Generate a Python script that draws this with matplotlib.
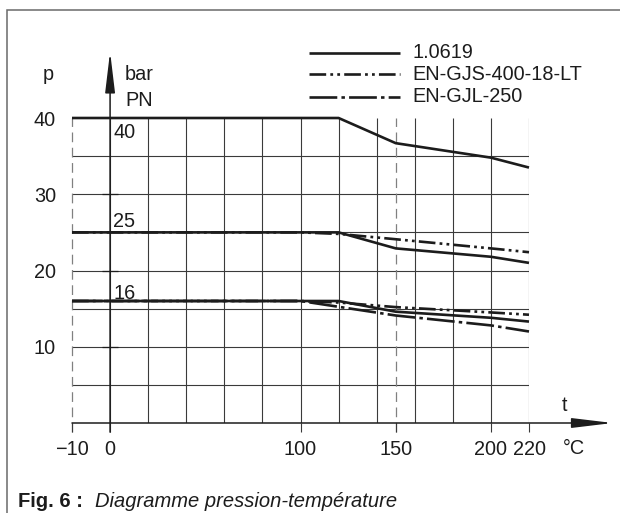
import numpy as np
import matplotlib
matplotlib.use("Agg")
import matplotlib.pyplot as plt
from matplotlib.patches import Rectangle

plt.rcParams['font.family'] = ['Liberation Sans', 'DejaVu Sans']
plt.rcParams['lines.scale_dashes'] = False

# pressure-temperature ratings
t_steel = [-10, 120, 150, 200, 220]
p_steel_pn40 = [40, 40, 36.7, 34.8, 33.5]
p_steel_pn25 = [25, 25, 22.9, 21.8, 21.0]
p_steel_pn16 = [16, 16, 14.6, 13.8, 13.3]

t_gjs = [-10, 100, 120, 150, 200, 220]
p_gjs_pn25 = [25, 25, 24.8, 24.1, 22.9, 22.4]
p_gjs_pn16 = [16, 16, 15.8, 15.2, 14.5, 14.2]

t_gjl = [-10, 100, 150, 200, 220]
p_gjl_pn16 = [16, 16, 14.1, 12.8, 12.0]

materials = ['1.0619', 'EN-GJS-400-18-LT', 'EN-GJL-250']
pn_levels = [40, 25, 16]
x_ticks = [-10, 0, 100, 150, 200, 220]
y_ticks = [10, 20, 30, 40]
x_grid = [0, 20, 40, 60, 80, 100, 120, 140, 160, 180, 200, 220]
y_grid = [5, 10, 15, 20, 25, 30, 35]

ink = '#1c1c1c'
grid_c = '#3a3a3a'
styles = {
    '1.0619': '-',
    'EN-GJS-400-18-LT': (0, (12, 3, 2, 3, 2, 3)),
    'EN-GJL-250': (0, (20, 3, 2.5, 3)),
}
lw = 1.9
fs = 14.3

W, H = 620, 513
fig = plt.figure(figsize=(W / 100, H / 100), dpi=100)

# outer frame of the figure box
fig.patches.append(Rectangle((7 / W, -0.1), 1.2, (H - 10) / H + 0.1,
                             transform=fig.transFigure, fill=False,
                             edgecolor='#6a6a6a', lw=1.1))

# plot box: -10..220 degC, 0..40 bar
ax = fig.add_axes([72 / W, (H - 423) / H, 457 / W, 305 / H])


def fwd(x):
    x = np.asarray(x, dtype=float)
    return np.where(x < 0, 2 * x, x)


def inv(x):
    x = np.asarray(x, dtype=float)
    return np.where(x < 0, x / 2, x)


ax.set_xscale('function', functions=(fwd, inv))
ax.set_xlim(-10, 220)
ax.set_ylim(0, 40)
for s in ax.spines.values():
    s.set_visible(False)

# grid
ax.vlines(x_grid, 0, 40, color=grid_c, lw=0.8, zorder=1)
ax.hlines(y_grid, -10, 220, color=grid_c, lw=0.8, zorder=1)
ax.vlines([-10, 150], -1.2, 40, color='#808080', lw=0.9,
          linestyles=[(0, (7, 4))], zorder=1, clip_on=False)

# ticks
ax.set_xticks(x_ticks)
ax.set_xticklabels(['\u221210', '0', '100', '150', '200', '220'])
ax.tick_params(axis='x', direction='out', length=6.5, width=0.8,
               color=grid_c, pad=6, labelsize=fs, labelcolor=ink)
ax.set_yticks(y_ticks)
ax.set_yticklabels([str(v) for v in y_ticks])
ax.tick_params(axis='y', length=0, pad=11.5, labelsize=fs, labelcolor=ink)
ax.plot([0] * 3, y_ticks[:3], ls='none', marker='_', ms=12, mew=0.9,
        color=ink, clip_on=False, zorder=3)

# axes with arrows
arrow = dict(arrowstyle='-|>,head_length=2.5,head_width=0.3',
             mutation_scale=10, lw=1.1, color=ink, shrinkA=0, shrinkB=0)
ax.annotate('', xy=(264, 0), xytext=(-10, 0), arrowprops=arrow,
            annotation_clip=False, zorder=4)
ax.annotate('', xy=(0, 48.7), xytext=(0, -1.2), arrowprops=arrow,
            annotation_clip=False, zorder=4)

# curves
for t, p in [(t_steel, p_steel_pn40), (t_steel, p_steel_pn25),
             (t_steel, p_steel_pn16)]:
    ax.plot(t, p, ls=styles['1.0619'], color=ink, lw=lw, zorder=5,
            clip_on=False, solid_capstyle='butt')
for p in [p_gjs_pn25, p_gjs_pn16]:
    ax.plot(t_gjs, p, ls=styles['EN-GJS-400-18-LT'], color=ink, lw=lw,
            zorder=5, clip_on=False, dash_capstyle='butt')
ax.plot(t_gjl, p_gjl_pn16, ls=styles['EN-GJL-250'], color=ink, lw=lw,
        zorder=5, clip_on=False, dash_capstyle='butt')

# PN labels above each rating line
pn_label_y = [37.4, 25.7, 16.3]
for pn, yy in zip(pn_levels, pn_label_y):
    ax.text(1.6, yy, str(pn), fontsize=fs, color=ink, va='baseline',
            ha='left', zorder=6)

# legend drawn by hand
leg_y = [48.55, 45.75, 42.8]
for name, yy in zip(materials, leg_y):
    ax.plot([104.7, 152.1], [yy, yy], ls=styles[name], color=ink, lw=lw,
            clip_on=False, dash_capstyle='butt', solid_capstyle='butt')
    ax.text(158.9, yy, name, fontsize=fs, color=ink, va='center',
            ha='left')

# axis names
ax.text(-17.6, 45.0, 'p', fontsize=fs, color=ink, va='baseline', ha='left')
ax.text(7.9, 45.0, 'bar', fontsize=fs, color=ink, va='baseline', ha='left')
ax.text(7.9, 41.6, 'PN', fontsize=fs, color=ink, va='baseline', ha='left')
ax.text(238.4, 1.6, 't', fontsize=fs, color=ink, va='baseline', ha='center')
ax.text(237.9, -4.07, '\u00b0C', fontsize=fs, color=ink, va='baseline',
        ha='left')

# caption
fig.text(18 / W, (H - 507) / H, 'Fig. 6 :', fontsize=14.5, fontweight='bold',
         color=ink, va='baseline', ha='left')
fig.text(95 / W, (H - 507) / H, 'Diagramme pression-temp\u00e9rature',
         fontsize=14.5, style='italic', color=ink, va='baseline', ha='left')

fig.savefig('out.png', dpi=100)
